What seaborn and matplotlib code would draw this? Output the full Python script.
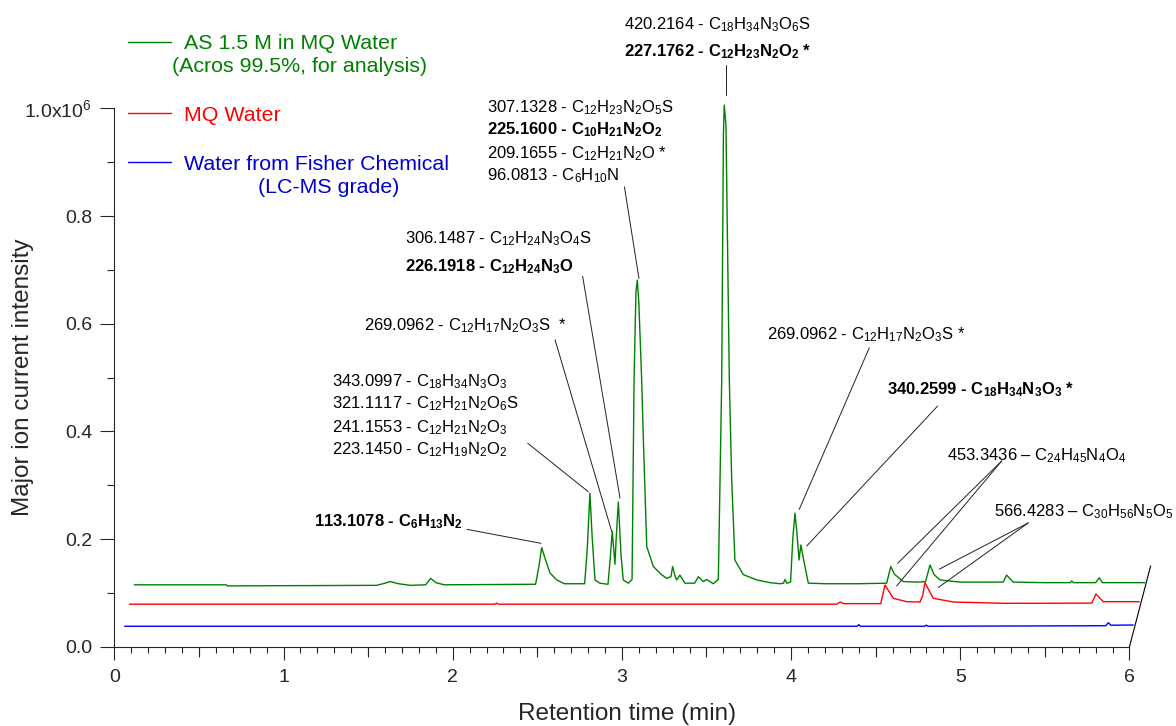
import numpy as np
import pandas as pd
import seaborn as sns
import matplotlib as mpl
import matplotlib.pyplot as plt

# retention time (min) as read on the axis, intensity in units of 1e6 (traces drawn with their waterfall offset)
green_t = [0.118, 0.66, 0.67, 1.55, 1.60, 1.63, 1.68, 1.75, 1.84, 1.87, 1.90, 1.95,
           2.49, 2.51, 2.526, 2.55, 2.575, 2.615, 2.66, 2.78, 2.795, 2.811, 2.825, 2.841,
           2.87, 2.918, 2.93, 2.943, 2.952, 2.959, 2.966, 2.979, 2.995, 3.008, 3.038, 3.06,
           3.072, 3.083, 3.091, 3.10, 3.117, 3.127, 3.147, 3.186, 3.23, 3.265, 3.29, 3.30,
           3.315, 3.324, 3.343, 3.373, 3.43, 3.452, 3.481, 3.501, 3.54, 3.570, 3.59, 3.60,
           3.605, 3.615, 3.635, 3.649, 3.668, 3.717, 3.797, 3.875, 3.934, 3.955, 3.964, 3.975,
           3.997, 4.01, 4.023, 4.035, 4.047, 4.058, 4.075, 4.102, 4.2, 4.4, 4.565, 4.589,
           4.61, 4.663, 4.75, 4.795, 4.821, 4.845, 4.88, 5.0, 5.254, 5.274, 5.313, 5.5,
           5.65, 5.658, 5.67, 5.80, 5.821, 5.84, 6.091]
green_y = [0.115, 0.115, 0.113, 0.114, 0.118, 0.121, 0.117, 0.114, 0.115, 0.127, 0.119, 0.115,
           0.116, 0.150, 0.184, 0.160, 0.137, 0.124, 0.117, 0.117, 0.180, 0.285, 0.200, 0.124,
           0.118, 0.116, 0.160, 0.214, 0.180, 0.153, 0.200, 0.269, 0.170, 0.124, 0.118, 0.125,
           0.495, 0.660, 0.681, 0.640, 0.495, 0.384, 0.186, 0.149, 0.135, 0.127, 0.130, 0.149,
           0.130, 0.124, 0.133, 0.118, 0.118, 0.130, 0.121, 0.125, 0.117, 0.125, 0.495, 0.950,
           1.006, 0.970, 0.495, 0.310, 0.161, 0.134, 0.124, 0.119, 0.117, 0.118, 0.125, 0.118,
           0.120, 0.200, 0.248, 0.210, 0.161, 0.189, 0.160, 0.118, 0.117, 0.117, 0.118, 0.149,
           0.135, 0.121, 0.120, 0.121, 0.152, 0.134, 0.124, 0.120, 0.120, 0.133, 0.120, 0.119,
           0.119, 0.122, 0.119, 0.119, 0.128, 0.119, 0.119]

red_t = [0.089, 2.25, 2.26, 2.27, 4.27, 4.29, 4.31, 4.53, 4.555, 4.604, 4.683, 4.762,
         4.778, 4.791, 4.840, 4.959, 5.274, 5.777, 5.802, 5.845, 6.058]
red_y = [0.079, 0.079, 0.081, 0.079, 0.079, 0.083, 0.080, 0.080, 0.1146, 0.090, 0.0836, 0.083,
         0.095, 0.119, 0.090, 0.083, 0.0806, 0.081, 0.098, 0.0836, 0.0836]

blue_t = [0.061, 4.39, 4.40, 4.41, 4.79, 4.80, 4.81, 5.86, 5.875, 5.89, 6.023]
blue_y = [0.038, 0.038, 0.041, 0.038, 0.038, 0.040, 0.038, 0.039, 0.0446, 0.040, 0.0403]

traces = ['AS', 'MQ', 'Fisher']
colors = {'AS': '#008000', 'MQ': '#ff0000', 'Fisher': '#0000ff'}

# legend entries: (lines of text, text colour)
legend_lines = [('AS 1.5 M in MQ Water', '(Acros 99.5%, for analysis)'),
                ('MQ Water',),
                ('Water from Fisher Chemical', '(LC-MS grade)')]
legend_text_colors = ['#008000', '#ff0000', '#0000cc']

# annotation labels: (text, bold, x, y) with x,y = left / centre of line in data units
labels = [
    ('420.2164 - C$_{18}$H$_{34}$N$_3$O$_6$S', False, 3.012, 1.157),
    ('227.1762 - C$_{12}$H$_{23}$N$_2$O$_2$ *', True, 3.012, 1.108),
    ('307.1328 - C$_{12}$H$_{23}$N$_2$O$_5$S', False, 2.204, 1.004),
    ('225.1600 - C$_{10}$H$_{21}$N$_2$O$_2$', True, 2.204, 0.963),
    ('209.1655 - C$_{12}$H$_{21}$N$_2$O *', False, 2.204, 0.919),
    ('96.0813 - C$_6$H$_{10}$N', False, 2.204, 0.878),
    ('306.1487 - C$_{12}$H$_{24}$N$_3$O$_4$S', False, 1.720, 0.760),
    ('226.1918 - C$_{12}$H$_{24}$N$_3$O', True, 1.720, 0.708),
    ('269.0962 - C$_{12}$H$_{17}$N$_2$O$_3$S  *', False, 1.478, 0.599),
    ('343.0997 - C$_{18}$H$_{34}$N$_3$O$_3$', False, 1.288, 0.495),
    ('321.1117 - C$_{12}$H$_{21}$N$_2$O$_6$S', False, 1.288, 0.454),
    ('241.1553 - C$_{12}$H$_{21}$N$_2$O$_3$', False, 1.288, 0.409),
    ('223.1450 - C$_{12}$H$_{19}$N$_2$O$_2$', False, 1.288, 0.368),
    ('113.1078 - C$_6$H$_{13}$N$_2$', True, 1.180, 0.235),
    ('269.0962 - C$_{12}$H$_{17}$N$_2$O$_3$S *', False, 3.856, 0.583),
    ('340.2599 - C$_{18}$H$_{34}$N$_3$O$_3$ *', True, 4.565, 0.480),
    ('453.3436 \u2013 C$_{24}$H$_{45}$N$_4$O$_4$', False, 4.920, 0.358),
    ('566.4283 \u2013 C$_{30}$H$_{56}$N$_5$O$_5$', False, 5.200, 0.253),
]

# connector lines: start near label -> peak
connectors = [
    ((3.615, 1.080), (3.615, 1.025)),
    ((3.015, 0.854), (3.101, 0.684)),
    ((2.768, 0.688), (2.989, 0.276)),
    ((2.605, 0.570), (2.940, 0.214)),
    ((2.443, 0.378), (2.801, 0.288)),
    ((2.084, 0.218), (2.522, 0.192)),
    ((4.462, 0.555), (4.048, 0.255)),
    ((4.866, 0.447), (4.092, 0.187)),
    ((5.245, 0.345), (4.630, 0.155)),
    ((5.245, 0.345), (4.624, 0.113)),
    ((5.402, 0.230), (4.876, 0.144)),
    ((5.402, 0.230), (4.870, 0.110)),
]

df = pd.concat([
    pd.DataFrame({'t': green_t, 'y': green_y, 'trace': 'AS'}),
    pd.DataFrame({'t': red_t, 'y': red_y, 'trace': 'MQ'}),
    pd.DataFrame({'t': blue_t, 'y': blue_y, 'trace': 'Fisher'}),
], ignore_index=True)

sns.set_style('ticks')
plt.rcParams['font.family'] = ['Liberation Sans', 'DejaVu Sans']
plt.rcParams['mathtext.fontset'] = 'custom'
plt.rcParams['mathtext.rm'] = 'Liberation Sans'
plt.rcParams['mathtext.bf'] = 'Liberation Sans:bold'
plt.rcParams['mathtext.default'] = 'regular'

fig = plt.figure(figsize=(11.76, 7.26), dpi=100)
ax = fig.add_axes([0.0972, 0.1092, 0.8992, 0.8899])

sns.lineplot(data=df, x='t', y='y', hue='trace', hue_order=traces, palette=colors,
             estimator=None, sort=False, lw=1.0, legend=False, ax=ax)

# depth edge of the waterfall
ax.plot([6.0, 6.125], [0.0, 0.150], color='black', lw=0.8, clip_on=False)

for (p0, p1) in connectors:
    ax.plot([p0[0], p1[0]], [p0[1], p1[1]], color='#222222', lw=0.7)

for text, bold, x, y in labels:
    ax.annotate(text, xy=(x, y), xytext=(0, -4.3), textcoords='offset points',
                fontsize=12, fontweight='bold' if bold else 'normal',
                ha='left', va='baseline', color='black')

# hand-made legend
leg_y = [1.124, 0.991, 0.900]
line_gap = 0.043
second_x = [0.342, None, 0.850]
for i, tr in enumerate(traces):
    ax.plot([0.081, 0.335], [leg_y[i], leg_y[i]], color=colors[tr], lw=1.0)
    ax.annotate(legend_lines[i][0], xy=(0.413, leg_y[i]), xytext=(0, -5.5),
                textcoords='offset points', fontsize=15.4, va='baseline',
                color=legend_text_colors[i])
    if len(legend_lines[i]) > 1:
        ax.annotate(legend_lines[i][1], xy=(second_x[i], leg_y[i] - line_gap), xytext=(0, -5.5),
                    textcoords='offset points', fontsize=15.4, va='baseline',
                    color=legend_text_colors[i])

ax.set_xlim(0, 6.25)
ax.set_ylim(0, 1.2)
sns.despine(ax=ax)
ax.spines['bottom'].set_bounds(0, 6)
ax.spines['left'].set_bounds(0, 1.0)
for s in ['bottom', 'left']:
    ax.spines[s].set_linewidth(0.8)

ax.set_xticks(range(7))
ax.set_xticks(np.round(np.arange(0, 6.01, 0.1), 2), minor=True)
ax.set_yticks([0, 0.2, 0.4, 0.6, 0.8, 1.0])
ax.set_yticklabels(['0.0', '0.2', '0.4', '0.6', '0.8', '1.0x10$^{6}$'])
ax.set_yticks([0.1, 0.3, 0.5, 0.7, 0.9], minor=True)
ax.tick_params(axis='x', which='major', length=9.4, width=0.8, pad=7, labelsize=14)
ax.tick_params(axis='x', which='minor', length=4.3, width=0.8)
ax.tick_params(axis='y', which='major', length=10, width=0.8, pad=6, labelsize=14)
ax.tick_params(axis='y', which='minor', length=5, width=0.8)

# half-minute ticks, a bit longer than the minor ones
sec = ax.secondary_xaxis('bottom')
sec.set_xticks([0.5, 1.5, 2.5, 3.5, 4.5, 5.5])
sec.tick_params(length=7.2, width=0.8, labelbottom=False)
for s in sec.spines.values():
    s.set_visible(False)

ax.set_xlabel('Retention time (min)', fontsize=17.5)
ax.xaxis.set_label_coords(0.485, -0.087)
ax.set_ylabel('Major ion current intensity', fontsize=17.5)
ax.yaxis.set_label_coords(-0.076, 0.417)

fig.savefig('out.png', dpi=100)
